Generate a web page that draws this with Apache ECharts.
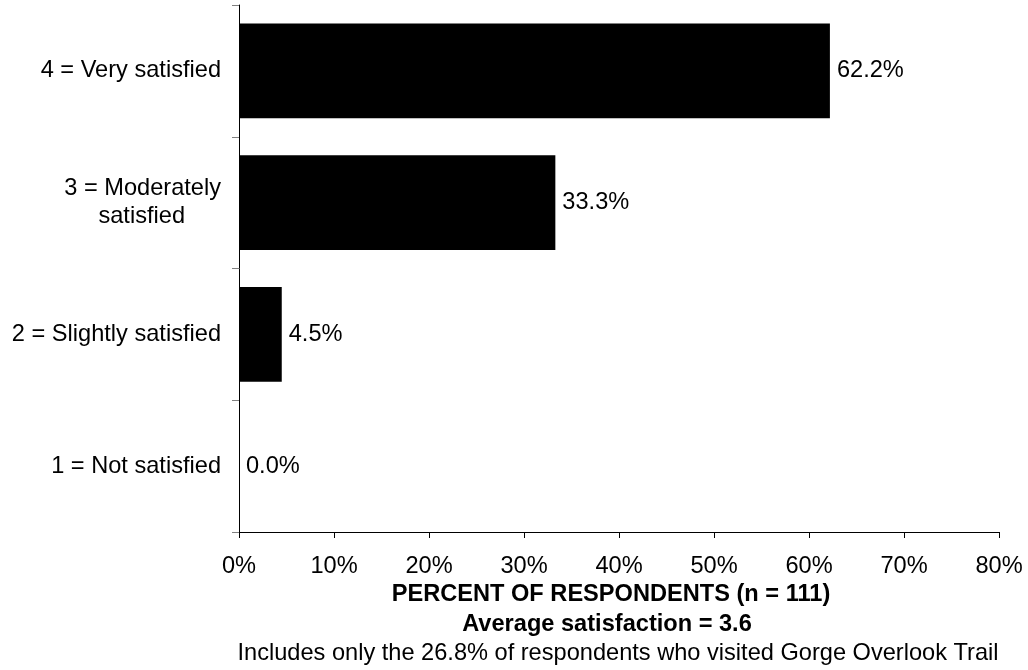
<!DOCTYPE html>
<html>
<head>
<meta charset="utf-8">
<script src="https://cdn.jsdelivr.net/npm/echarts@6/dist/echarts.min.js"></script>
<style>
html,body{margin:0;padding:0;background:#fff;}
#chart{width:1028px;height:670px;}
</style>
</head>
<body>
<div id="chart"></div>
<script>
const categories = ['1 = Not satisfied', '2 = Slightly satisfied', '3 = Moderately satisfied', '4 = Very satisfied'];
const percentValues = [0.0, 4.5, 33.3, 62.2];
const xTicks = [0, 10, 20, 30, 40, 50, 60, 70, 80];
const axisTitle = 'PERCENT OF RESPONDENTS (n = 111)';
const avgLine = 'Average satisfaction = 3.6';
const noteLine = 'Includes only the 26.8% of respondents who visited Gorge Overlook Trail';

const FONT = '"Liberation Sans", Arial, sans-serif';
const FS = 23.6;
const chart = echarts.init(document.getElementById('chart'), null, {renderer: 'canvas'});
chart.setOption({
  animation: false,
  backgroundColor: '#fff',
  textStyle: {fontFamily: FONT},
  grid: {left: 239, right: 29, top: 5, bottom: 138, containLabel: false},
  xAxis: {
    type: 'value', min: xTicks[0], max: xTicks[xTicks.length - 1], interval: 10,
    splitLine: {show: false},
    axisLine: {show: true, lineStyle: {color: '#000', width: 1}},
    axisTick: {show: true, length: 6, lineStyle: {color: '#000'}},
    axisLabel: {formatter: '{value}%', fontSize: FS, color: '#000', fontFamily: FONT, margin: 22}
  },
  yAxis: {
    type: 'category', data: categories,
    axisLine: {show: true, lineStyle: {color: '#000', width: 1}},
    axisTick: {show: true, length: 7, lineStyle: {color: '#808080'}},
    axisLabel: {
      fontSize: FS, color: '#000', fontFamily: FONT, margin: 18,
      formatter: function (v) {
        if (v.indexOf('Moderately') >= 0) return '{c|3 = Moderately}\n{s|satisfied}';
        return v;
      },
      rich: {
        c: {fontSize: FS, fontFamily: FONT, color: '#000', lineHeight: 28},
        s: {fontSize: FS, fontFamily: FONT, color: '#000', lineHeight: 28, padding: [0, 36, 0, 0]}
      }
    }
  },
  series: [{
    type: 'bar', data: percentValues, barCategoryGap: '28%',
    itemStyle: {color: '#000'},
    label: {show: true, position: 'right', distance: 7, fontSize: FS, color: '#000', fontFamily: FONT,
      formatter: function (p) { return p.value.toFixed(1) + '%'; }}
  }],
  graphic: [
    {type: 'text', x: 611, y: 594, style: {text: axisTitle, font: 'bold ' + FS + 'px ' + FONT, fill: '#000', textAlign: 'center', textVerticalAlign: 'middle'}},
    {type: 'text', x: 607, y: 624, style: {text: avgLine, font: 'bold ' + FS + 'px ' + FONT, fill: '#000', textAlign: 'center', textVerticalAlign: 'middle'}},
    {type: 'text', x: 618, y: 653, style: {text: noteLine, font: FS + 'px ' + FONT, fill: '#000', textAlign: 'center', textVerticalAlign: 'middle'}}
  ]
});
</script>
</body>
</html>
